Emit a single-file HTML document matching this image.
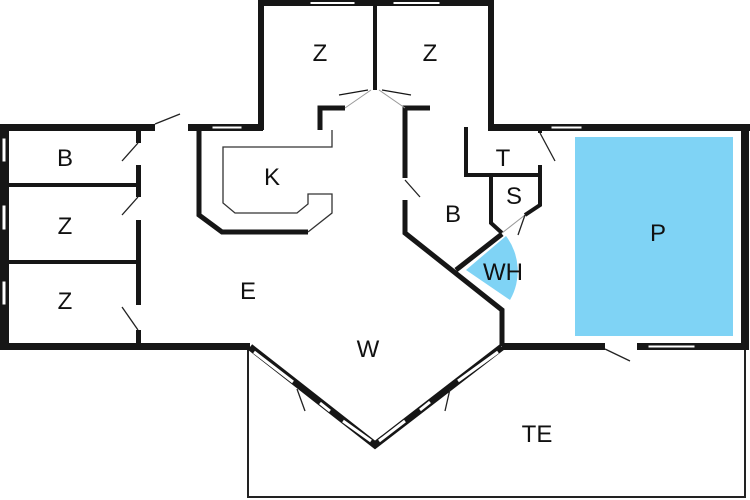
<!DOCTYPE html>
<html><head><meta charset="utf-8"><style>
html,body{margin:0;padding:0;background:#fff;}
svg{display:block}
text{font-family:"Liberation Sans",sans-serif;font-size:24px;fill:#111;text-anchor:middle;}
</style></head><body>
<svg width="750" height="500" viewBox="0 0 750 500" xmlns="http://www.w3.org/2000/svg">
<rect width="750" height="500" fill="#fff"/>
<rect x="575" y="137" width="158" height="199" fill="#7fd3f5"/>
<path d="M466,270 L506,236 A58,58 0 0 1 510,300 Z" fill="#7fd3f5"/>
<polyline points="248,346 248,497 745,497 745,346" fill="none" stroke="#222" stroke-width="2"/>
<g fill="#161616">
<rect x="258" y="0" width="236" height="6"/>
<rect x="258" y="0" width="6" height="130"/>
<rect x="488" y="0" width="6" height="130"/>
<rect x="0" y="124" width="155" height="7"/>
<rect x="188" y="124" width="75" height="7"/>
<rect x="488" y="124" width="262" height="7"/>
<rect x="0" y="124" width="9" height="226"/>
<rect x="741" y="124" width="8" height="226"/>
<rect x="0" y="343" width="250" height="7"/>
<rect x="502" y="343" width="103" height="7"/>
<rect x="637" y="343" width="112" height="7"/>
<rect x="136" y="124" width="5" height="19"/>
<rect x="136" y="165" width="5" height="32"/>
<rect x="136" y="220" width="5" height="85"/>
<rect x="136" y="330" width="5" height="18"/>
<rect x="6" y="183" width="134" height="4"/>
<rect x="6" y="260" width="134" height="4"/>
</g>
<g fill="#fff" stroke="#161616" stroke-width="1">
<rect x="310" y="1.5" width="45" height="3"/>
<rect x="393" y="1.5" width="47" height="3"/>
<rect x="212" y="126" width="30" height="3"/>
<rect x="551" y="126" width="31" height="3"/>
<rect x="648" y="345" width="47" height="3"/>
<rect x="2" y="138" width="4" height="24"/>
<rect x="2" y="205" width="4" height="25"/>
<rect x="2" y="281" width="4" height="24"/>
</g>
<g fill="none" stroke="#161616">
<path d="M375,0 V90" stroke-width="4"/>
<path d="M320,130 V108 H345" stroke-width="5"/>
<path d="M405,130 V108 H430" stroke-width="5"/>
<path d="M345,108 L371,90 M405,108 L379,90" stroke-width="1" stroke="#999"/>
<path d="M339,95 L368,90 M411,95 L382,90" stroke-width="1.3"/>
<path d="M199,130 V215 L222,232 H308" stroke-width="5"/>
<path d="M332,130 V147 H223 V203 L235,213 H297 L308,204 V194 H332 V213 L308,232" stroke-width="1.3" stroke="#333"/>
<path d="M405,127 V178 M405,200 V233 L502,310 V346" stroke-width="5"/>
<path d="M456,270 L502,234" stroke-width="5"/>
<path d="M466,127 V175 H540" stroke-width="4"/>
<path d="M540,127 V133 M540,165 V205 L525,215" stroke-width="4"/>
<path d="M491,175 V223 L502,233" stroke-width="4"/>
<path d="M502,233 L525,215" stroke-width="1" stroke="#999"/>
<path d="M250,347 L375,445 L502,347" stroke-width="7"/>
<path d="M254,352 L293,382 M320,403 L330,411 M343,421 L371,441 M379,441 L405,421 M420,410 L430,402 M458,381 L498,352" stroke="#fff" stroke-width="3"/>
</g>
<g stroke="#222" stroke-width="1.3" fill="none">
<path d="M155,124 L180,114"/>
<path d="M138,143 L122,161"/>
<path d="M138,197 L122,215"/>
<path d="M138,330 L122,307"/>
<path d="M405,180 L420,197"/>
<path d="M540,133 L555,161"/>
<path d="M525,215 L518,235"/>
<path d="M605,349 L630,361"/>
<path d="M297,389 L305,411"/>
<path d="M450,389 L445,411"/>
</g>
<text x="320" y="61">Z</text>
<text x="430" y="61">Z</text>
<text x="65" y="166">B</text>
<text x="65" y="234">Z</text>
<text x="65" y="309">Z</text>
<text x="272" y="185">K</text>
<text x="248" y="299">E</text>
<text x="368" y="357">W</text>
<text x="453" y="222">B</text>
<text x="503" y="166">T</text>
<text x="514" y="204">S</text>
<text x="503" y="280">WH</text>
<text x="658" y="241">P</text>
<text x="537" y="442">TE</text>
</svg>
</body></html>
